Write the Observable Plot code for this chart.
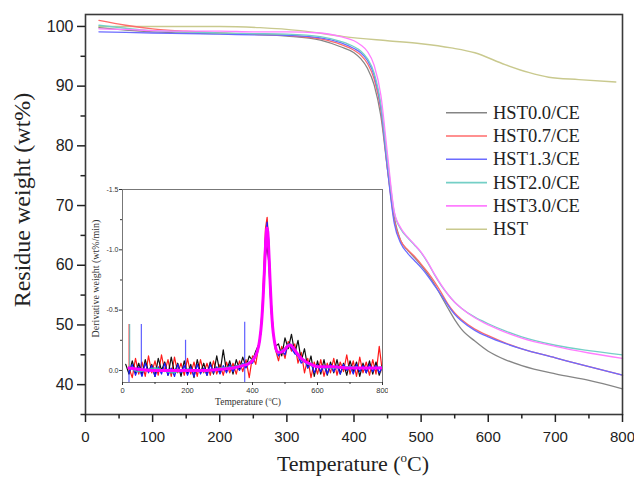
<!DOCTYPE html>
<html><head><meta charset="utf-8">
<script src="https://cdn.jsdelivr.net/npm/d3@7"></script>
<script src="https://cdn.jsdelivr.net/npm/@observablehq/plot@0.6"></script>
<style>
body{margin:0;background:#fff;}
#wrap{position:relative;width:634px;height:478px;overflow:hidden;background:#fff;}
#wrap svg{position:absolute;}
</style></head><body><div id="wrap"></div>
<script>
// ---- main TGA chart data ----
const seriesNames = ["HST0.0/CE","HST0.7/CE","HST1.3/CE","HST2.0/CE","HST3.0/CE","HST"];
const seriesColors = ["#858585","#ff6b6b","#6b6bff","#74cfc6","#ff7dff","#c9c98e"];
const tgaT = [20,60,100,150,200,250,300,350,380,400,410,420,430,440,450,460,470,480,490,500,510,520,530,540,550,560,580,600,625,650,700,750,800];
const w00 = [99.8,99.4,99.1,98.9,98.8,98.7,98.4,97.7,96.6,95.6,94.6,93.0,90.2,85.0,76.0,68.0,64.0,62.5,61.3,60.0,58.5,56.8,54.8,52.8,50.9,49.3,47.3,45.6,44.2,43.2,41.8,40.7,39.3];
const w07 = [101.0,100.2,99.6,99.2,98.9,98.7,98.5,97.9,97.0,96.0,95.2,93.8,91.2,86.0,76.0,67.5,64.0,62.6,61.5,60.2,58.8,57.2,55.4,53.5,52.0,50.9,49.3,48.2,47.0,46.0,44.5,43.0,41.6];
const w13 = [99.1,99.0,98.9,98.8,98.7,98.6,98.5,98.1,97.3,96.3,95.6,94.3,91.8,86.5,76.0,67.0,63.6,62.0,60.8,59.6,58.2,56.6,55.0,53.3,51.8,50.7,49.1,48.0,46.9,46.0,44.5,43.0,41.6];
const w20 = [100.2,99.7,99.3,99.1,98.9,98.8,98.7,98.3,97.5,96.6,95.9,94.6,92.2,87.0,77.5,68.8,66.0,64.6,63.4,62.1,60.4,58.4,56.6,55.1,53.8,52.8,51.3,50.2,49.0,48.0,46.6,45.7,45.0];
const w30 = [99.6,99.5,99.3,99.2,99.2,99.1,99.1,98.9,98.3,97.6,96.9,95.8,93.5,88.5,78.5,69.0,66.2,64.7,63.5,62.2,60.5,58.5,56.7,55.1,53.8,52.8,51.2,50.0,48.8,47.8,46.4,45.3,44.4];
const hstT = [20,100,200,260,320,385,450,500,545,580,625,660,690,735,790];
const hstW = [100.0,100.0,100.0,99.8,99.3,98.3,97.6,97.1,96.4,95.6,93.6,92.3,91.5,91.1,90.7];
const xMajor = [0,100,200,300,400,500,600,700,800];
const xMinor = [50,150,250,350,450,550,650,750];
const yMajor = [40,50,60,70,80,90,100];
const yMinor = [35,45,55,65,75,85,95];

// ---- inset DTG data ----
const insetNames = ["HST0.0/CE","HST0.7/CE","HST1.3/CE","HST2.0/CE","HST3.0/CE"];
const insetColors = ["#111111","#ff1a1a","#1a1aff","#3fb3b3","#ff00ff"];
const dtgT = [10,20,30,40,50,60,70,80,90,100,110,120,130,140,150,160,170,180,190,200,210,220,230,240,250,260,270,280,290,300,310,320,330,340,350,360,370,380,390,400,410,420,
  425,430,435,440,445,450,455,460,465,470,
  480,490,500,510,520,530,540,550,560,570,580,590,600,610,620,630,640,650,660,670,680,690,700,710,720,730,740,750,760,770,780,790,800];
const d00 = [-0.05,0.03,-0.08,0.02,-0.06,0.04,-0.09,0.01,-0.05,0.05,-0.10,0.00,-0.07,0.04,-0.11,0.02,-0.06,0.05,-0.08,0.03,-0.05,0.06,-0.09,0.02,-0.06,0.04,-0.07,0.03,-0.12,0.02,-0.17,0.01,-0.08,0.03,-0.09,-0.01,-0.11,-0.03,-0.12,-0.08,-0.16,-0.22,
  -0.30,-0.45,-0.70,-0.95,-1.03,-0.90,-0.62,-0.40,-0.28,-0.20,
  -0.22,-0.12,-0.27,-0.18,-0.30,-0.14,-0.25,-0.08,-0.18,-0.02,-0.12,0.05,-0.08,0.03,-0.09,0.04,-0.07,0.02,-0.09,0.03,-0.06,0.04,-0.08,0.01,-0.07,0.05,-0.06,0.02,-0.08,0.03,-0.07,0.04,-0.05];
const d07 = [null,-0.02,0.06,-0.10,0.03,-0.07,0.05,-0.12,0.02,-0.08,0.04,-0.13,0.01,-0.09,0.05,-0.11,0.02,-0.06,0.04,-0.10,0.03,-0.07,0.05,-0.09,0.02,-0.06,0.04,-0.08,0.03,-0.05,0.04,-0.07,0.02,-0.06,0.03,-0.08,0.01,-0.09,0.06,-0.12,-0.05,-0.22,
  -0.33,-0.52,-0.85,-1.18,-1.27,-1.05,-0.70,-0.45,-0.30,-0.18,
  -0.08,-0.20,-0.10,-0.24,-0.16,-0.22,-0.06,-0.15,0.02,-0.10,0.06,-0.07,0.03,-0.09,0.05,-0.06,0.02,-0.10,0.04,-0.07,0.01,-0.13,0.03,-0.08,0.05,-0.11,0.02,-0.07,0.04,-0.09,0.03,-0.20,0.02];
const d13 = [null,0.02,-0.05,0.04,-0.03,0.05,-0.06,0.02,-0.04,0.05,-0.03,0.03,-0.06,0.04,-0.02,0.05,-0.05,0.02,-0.04,0.04,-0.03,0.05,-0.05,0.03,-0.02,0.04,-0.05,0.02,-0.03,0.03,-0.04,0.02,-0.05,0.01,-0.04,0.00,-0.06,-0.02,-0.07,-0.06,-0.12,-0.20,
  -0.30,-0.48,-0.78,-1.10,-1.23,-1.08,-0.72,-0.45,-0.28,-0.19,
  -0.12,-0.17,-0.13,-0.22,-0.18,-0.14,-0.12,-0.06,-0.09,-0.02,-0.06,0.02,-0.05,0.01,-0.04,0.03,-0.05,0.01,-0.04,0.03,-0.05,0.00,-0.04,0.03,-0.05,0.01,-0.04,0.02,-0.05,0.01,-0.04,0.02,-0.03];
const smoothT = [20,50,100,150,200,250,300,340,370,390,405,415,422,428,433,437,441,444,447,450,454,458,462,467,472,478,488,498,508,517,525,535,550,565,580,600,650,700,750,800];
const d20 = [-0.03,0.01,-0.02,0.02,-0.01,0.01,-0.02,-0.03,-0.05,-0.07,-0.11,-0.17,-0.26,-0.42,-0.64,-0.88,-1.10,-1.16,-1.12,-0.98,-0.73,-0.50,-0.35,-0.24,-0.17,-0.14,-0.16,-0.18,-0.21,-0.22,-0.18,-0.14,-0.09,-0.06,-0.04,-0.03,-0.02,-0.03,-0.02,-0.03];
const d30 = [-0.02,-0.01,0.0,0.0,0.0,0.0,-0.01,-0.02,-0.04,-0.06,-0.10,-0.16,-0.25,-0.40,-0.62,-0.85,-1.08,-1.18,-1.15,-1.00,-0.75,-0.52,-0.36,-0.25,-0.18,-0.15,-0.15,-0.17,-0.20,-0.21,-0.19,-0.15,-0.10,-0.07,-0.05,-0.03,-0.03,-0.02,-0.02,-0.02];
const spikeSeries = ["HST0.7/CE","HST2.0/CE","HST1.3/CE","HST1.3/CE","HST1.3/CE","HST1.3/CE"];
const spikeT = [20,22,20,58,194,376];
const spikeFrom = [0,0,0,0,0,0.1];
const spikeTo = [-0.38,-0.38,0.1,-0.38,-0.25,-0.40];
const ixMajor = [0,200,400,600,800];
const ixMinor = [100,300,500,700];
const iyMajor = [-1.5,-1.0,-0.5,0.0];
const iyMinor = [-1.25,-0.75,-0.25];

// ---- build tables ----
const ceSets = [w00,w07,w13,w20,w30];
const ceRows = [];
ceSets.forEach((vals,i)=>vals.forEach((w,j)=>ceRows.push({s:seriesNames[i],T:tgaT[j],w})));
const hstRows = hstT.map((t,j)=>({s:"HST",T:t,w:hstW[j]}));

const wrap = document.getElementById("wrap");
const serif = "'Liberation Serif','Times New Roman',serif";
const sans = "'Liberation Sans',Arial,sans-serif";

const main = Plot.plot({
  width:634, height:478,
  marginLeft:85, marginRight:12, marginTop:14, marginBottom:64,
  x:{domain:[0,800]},
  y:{domain:[35,102]},
  color:{domain:seriesNames, range:seriesColors},
  style:{fontFamily:sans, background:"transparent", color:"#222"},
  marks:[
    Plot.line(hstRows,{x:"T",y:"w",z:"s",stroke:"s",strokeWidth:1.4,curve:"monotone-x"}),
    Plot.line(ceRows,{x:"T",y:"w",z:"s",stroke:"s",strokeWidth:1.3,curve:"monotone-x"}),
    Plot.frame({stroke:"#3a3a3a",strokeWidth:1.6}),
    Plot.axisX({ticks:xMajor,tickSize:8,tickPadding:9,fontSize:15,label:null,tickFormat:d=>String(d),strokeWidth:1.5}),
    Plot.axisX({ticks:xMinor,tickSize:4.5,label:null,tickFormat:()=>"",strokeWidth:1.5}),
    Plot.axisY({ticks:yMajor,tickSize:8,tickPadding:4,fontSize:16,label:null,tickFormat:d=>String(d),strokeWidth:1.5}),
    Plot.axisY({ticks:yMinor,tickSize:4.5,label:null,tickFormat:()=>"",strokeWidth:1.5})
  ]
});
main.style.left="0px"; main.style.top="0px";
wrap.appendChild(main);

const ms = d3.select(main);
// axis titles
const xt = ms.append("text").attr("x",353).attr("y",471).attr("text-anchor","middle")
  .style("font-family",serif).style("font-size","22px").attr("fill","#222");
xt.append("tspan").text("Temperature (");
xt.append("tspan").text("o").style("font-size","13px").attr("dy","-9");
xt.append("tspan").text("C)").attr("dy","9");
ms.append("text").attr("transform","translate(30,200) rotate(-90)").attr("text-anchor","middle")
  .style("font-family",serif).style("font-size","24px").attr("fill","#222").text("Residue weight (wt%)");

// legend
const lg = ms.append("g").attr("text-anchor","start");
seriesNames.forEach((n,i)=>{
  const y = 112.7 + i*23.3;
  lg.append("line").attr("x1",446).attr("x2",487).attr("y1",y).attr("y2",y)
    .attr("stroke",seriesColors[i]).attr("stroke-width",1.6);
  lg.append("text").attr("x",493).attr("y",y+6).attr("text-anchor","start").text(n)
    .style("font-family",serif).style("font-size","18.5px").attr("fill","#222");
});

// ---- inset ----
const insetRows = [];
[d00,d07,d13].forEach((vals,i)=>vals.forEach((v,j)=>{ if(v!==null) insetRows.push({s:insetNames[i],T:dtgT[j],d:v}); }));
const smoothRows20 = smoothT.map((t,j)=>({s:insetNames[3],T:t,d:d20[j]}));
const smoothRows30 = smoothT.map((t,j)=>({s:insetNames[4],T:t,d:d30[j]}));
const spikeRows = spikeT.map((t,j)=>({s:spikeSeries[j],T:t,a:spikeFrom[j],b:spikeTo[j]}));
const blackRows = insetRows.filter(r=>r.s===insetNames[0]);
const redRows = insetRows.filter(r=>r.s===insetNames[1]);
const blueRows = insetRows.filter(r=>r.s===insetNames[2]);

const inset = Plot.plot({
  width:300, height:230,
  marginLeft:34, marginRight:6, marginTop:9, marginBottom:28,
  x:{domain:[0,800]},
  y:{domain:[0.1,-1.5]},
  color:{domain:insetNames, range:insetColors},
  style:{fontFamily:sans, background:"white", color:"#333"},
  marks:[
    Plot.line(redRows,{x:"T",y:"d",stroke:"s",strokeWidth:1.2,clip:true}),
    Plot.line(blackRows,{x:"T",y:"d",stroke:"s",strokeWidth:1.2,clip:true}),
    Plot.line(blueRows,{x:"T",y:"d",stroke:"s",strokeWidth:1.2,clip:true}),
    Plot.line(smoothRows20,{x:"T",y:"d",stroke:"s",strokeWidth:1.4,curve:"monotone-x",clip:true}),
    Plot.ruleX(spikeRows,{x:"T",y1:"a",y2:"b",stroke:"s",strokeWidth:1.2,strokeOpacity:0.7,clip:true}),
    Plot.line(smoothRows30,{x:"T",y:"d",stroke:"s",strokeWidth:3,curve:"monotone-x",clip:true}),
    Plot.frame({stroke:"#777",strokeWidth:1}),
    Plot.axisX({ticks:ixMajor,tickSize:3,tickPadding:2,fontSize:7.5,label:null,tickFormat:d=>String(d)}),
    Plot.axisX({ticks:ixMinor,tickSize:2,label:null,tickFormat:()=>""}),
    Plot.axisY({ticks:iyMajor,tickSize:3,tickPadding:1,fontSize:7,label:null,tickFormat:d=>d.toFixed(1)}),
    Plot.axisY({ticks:iyMinor,tickSize:2,label:null,tickFormat:()=>""})
  ]
});
inset.style.left="88px"; inset.style.top="180px";
wrap.appendChild(inset);
const is = d3.select(inset);
const ixt = is.append("text").attr("x",160).attr("y",224.5).attr("text-anchor","middle")
  .style("font-family",serif).style("font-size","9.5px").attr("fill","#333");
ixt.append("tspan").text("Temperature (");
ixt.append("tspan").text("o").style("font-size","6px").attr("dy","-4");
ixt.append("tspan").text("C)").attr("dy","4");
is.append("text").attr("transform","translate(11,98.5) rotate(-90)").attr("text-anchor","middle")
  .style("font-family",serif).style("font-size","10px").attr("fill","#333").text("Derivative weight (wt%/min)");
</script>
</body></html>
